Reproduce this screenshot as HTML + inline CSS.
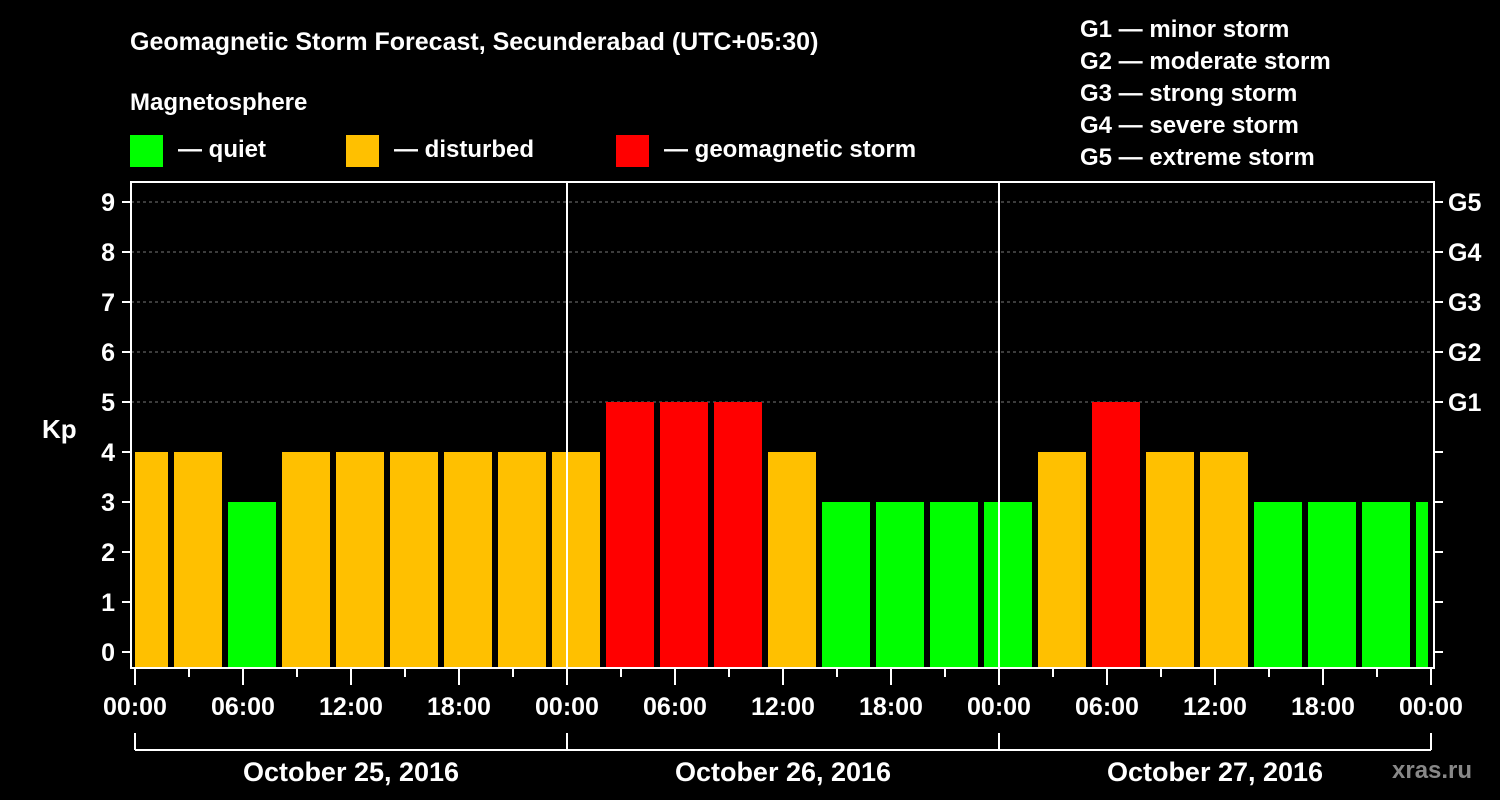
<!DOCTYPE html>
<html><head><meta charset="utf-8"><style>
body{margin:0;background:#000;}
svg{display:block;font-family:"Liberation Sans",sans-serif;font-weight:bold;}
</style></head><body>
<svg id="chart" width="1500" height="800" viewBox="0 0 1500 800">
<rect width="1500" height="800" fill="#000"/>
<text x="130" y="50" fill="#fff" font-size="25">Geomagnetic Storm Forecast, Secunderabad (UTC+05:30)</text>
<text x="130" y="110" fill="#fff" font-size="24">Magnetosphere</text>
<g><rect x="130" y="135" width="33" height="32" fill="#00ff00"/><text x="178" y="157" fill="#fff" font-size="24">— quiet</text></g>
<g><rect x="346" y="135" width="33" height="32" fill="#ffc000"/><text x="394" y="157" fill="#fff" font-size="24">— disturbed</text></g>
<g><rect x="616" y="135" width="33" height="32" fill="#ff0000"/><text x="664" y="157" fill="#fff" font-size="24">— geomagnetic storm</text></g>
<g fill="#fff" font-size="24">
<text x="1080" y="37">G1 — minor storm</text>
<text x="1080" y="69">G2 — moderate storm</text>
<text x="1080" y="101">G3 — strong storm</text>
<text x="1080" y="133">G4 — severe storm</text>
<text x="1080" y="165">G5 — extreme storm</text>
</g>
<g id="plot"></g>
<text x="42" y="438" fill="#fff" font-size="26">Kp</text>
<text x="1392" y="778" fill="#888" font-size="24">xras.ru</text>
</svg>
<script>
const kpValues=[4,4,3,4,4,4,4,4,4,5,5,5,4,3,3,3,3,4,5,4,4,3,3,3,3];
const yTicks=[0,1,2,3,4,5,6,7,8,9];
const gLabels=["G1","G2","G3","G4","G5"];
const xTickLabels=["00:00","06:00","12:00","18:00","00:00","06:00","12:00","18:00","00:00","06:00","12:00","18:00","00:00"];
const dayLabels=["October 25, 2016","October 26, 2016","October 27, 2016"];
const NS="http://www.w3.org/2000/svg";
const g=document.getElementById('plot');
const L=131,R=1434,T=182,B=668,X0=135,HPX=18;
const y=v=>652-50*v;
const x=h=>X0+h*HPX;
function mk(t,a,txt){const e=document.createElementNS(NS,t);for(const k in a)e.setAttribute(k,a[k]);if(txt!=null)e.textContent=txt;g.appendChild(e);return e;}
function color(v){return v>=5?"#ff0000":v>=4?"#ffc000":"#00ff00";}
// grid lines
for(const v of [5,6,7,8,9]){const e=mk('line',{x1:L,x2:R,y1:y(v),y2:y(v),stroke:'#777','stroke-dasharray':'3,3','stroke-width':1});

}
// bars: first bar partial starting at 00:00, boundaries at 2h + 3k
kpValues.forEach((v,i)=>{
  let s=i===0?x(0):x(2+3*(i-1))+3;
  let e2=i===0?x(2)-3:x(2+3*i)-3;
  e2=Math.min(e2,R-6);
  const r=mk('rect',{x:s,y:y(v),width:Math.max(0,e2-s),height:B-y(v),fill:color(v)});
  
  
});
// day separators
for(const d of [1,2]){const e=mk('line',{x1:x(24*d),x2:x(24*d),y1:T,y2:B,stroke:'#fff','stroke-width':2});

}
// frame
const fr=mk('rect',{x:L,y:T,width:R-L,height:B-T,fill:'none',stroke:'#fff','stroke-width':2});


// y ticks
yTicks.forEach(v=>{
  mk('line',{x1:L-9,x2:L,y1:y(v),y2:y(v),stroke:'#fff','stroke-width':2});
  mk('line',{x1:R,x2:R+9,y1:y(v),y2:y(v),stroke:'#fff','stroke-width':2});
  const t=mk('text',{x:L-16,y:y(v)+9,fill:'#fff','font-size':25,'text-anchor':'end'},v);
  
  
});
gLabels.forEach((s,i)=>{
  const t=mk('text',{x:1448,y:y(5+i)+9,fill:'#fff','font-size':25},s);
  
  
});
// x ticks
for(let h=0;h<=72;h+=3){const major=h%6===0;mk('line',{x1:x(h),x2:x(h),y1:B,y2:major?B+17:B+9,stroke:'#fff','stroke-width':2});}
xTickLabels.forEach((s,i)=>{
  const t=mk('text',{x:x(6*i),y:715,fill:'#fff','font-size':25,'text-anchor':'middle'},s);
  
  
});
// day brackets
mk('line',{x1:x(0),x2:x(72),y1:750,y2:750,stroke:'#fff','stroke-width':2});
for(const d of [0,1,2,3])mk('line',{x1:x(24*d),x2:x(24*d),y1:733,y2:750,stroke:'#fff','stroke-width':2});
dayLabels.forEach((s,i)=>{
  const t=mk('text',{x:x(24*i+12),y:781,fill:'#fff','font-size':27,'text-anchor':'middle'},s);
  
  
});
</script>
</body></html>
